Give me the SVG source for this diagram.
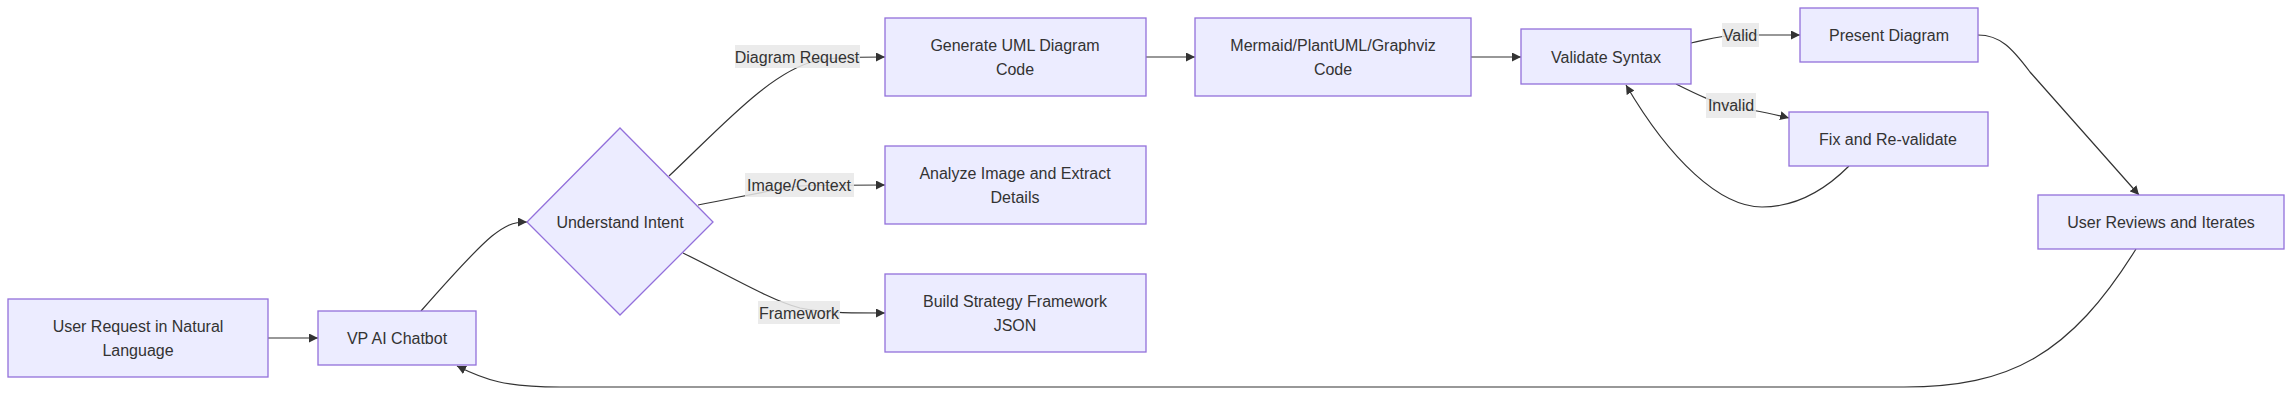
<svg xmlns="http://www.w3.org/2000/svg" width="2293" height="395" viewBox="0 0 2293 395">
<style>
.node rect,.node polygon{fill:#ECECFF;stroke:#9370DB;stroke-width:1.3}
text{font-family:"Liberation Sans",Arial,sans-serif;font-size:16px;fill:#333;text-anchor:middle;dominant-baseline:central}
.edge{fill:none;stroke:#333;stroke-width:1.2}
.lbl rect{fill:#e8e8e8;opacity:0.85}
</style>
<defs>
<marker id="arr" viewBox="0 0 10 10" refX="10" refY="5" markerWidth="9" markerHeight="9" markerUnits="userSpaceOnUse" orient="auto">
<path d="M0,0 L10,5 L0,10 z" fill="#333"/>
</marker>
</defs>
<rect width="2293" height="395" fill="#fff"/>
<g id="connectors">
<path class="edge" d="M268,338 L318,338" marker-end="url(#arr)"/>
<path class="edge" d="M421,311 C450,278 475,250 492,236 C505,226 512,222 527,222" marker-end="url(#arr)"/>
<path class="edge" d="M669,176 C720,128 770,72 815,61 C835,57 850,57 885,57" marker-end="url(#arr)"/>
<path class="edge" d="M698,205 C740,197 775,189 800,186 C820,185 850,185 885,185" marker-end="url(#arr)"/>
<path class="edge" d="M683,253 C730,276 770,300 800,308 C825,313 850,313 885,313" marker-end="url(#arr)"/>
<path class="edge" d="M1146,57 L1195,57" marker-end="url(#arr)"/>
<path class="edge" d="M1471,57 L1521,57" marker-end="url(#arr)"/>
<path class="edge" d="M1691,43 C1710,39 1722,35 1742,35 L1800,35" marker-end="url(#arr)"/>
<path class="edge" d="M1676,84 C1700,96 1715,103 1731,106 C1750,110 1770,113 1789,118" marker-end="url(#arr)"/>
<path class="edge" d="M1849,166 C1820,195 1790,207 1762,207 C1720,207 1670,160 1626,85" marker-end="url(#arr)"/>
<path class="edge" d="M1978,35 C2000,35 2012,48 2030,72 L2139,195" marker-end="url(#arr)"/>
<path class="edge" d="M2136,249 C2070,355 2010,387 1904,387 L560,387 C505,387 485,380 457,366" marker-end="url(#arr)"/>
</g>
<g id="edge-labels">
<g class="lbl"><rect x="735" y="45" width="125" height="23"/><text x="797" y="57">Diagram Request</text></g>
<g class="lbl"><rect x="745" y="173" width="109" height="24"/><text x="799" y="185">Image/Context</text></g>
<g class="lbl"><rect x="758" y="301" width="82" height="23"/><text x="799" y="313">Framework</text></g>
<g class="lbl"><rect x="1722" y="23" width="37" height="24"/><text x="1740" y="35">Valid</text></g>
<g class="lbl"><rect x="1706" y="93" width="50" height="25"/><text x="1731" y="105">Invalid</text></g>
</g>
<g id="n-user" class="node"><rect x="8" y="299" width="260" height="78"/><text x="138" y="326">User Request in Natural</text><text x="138" y="350">Language</text></g>
<g id="n-chatbot" class="node"><rect x="318" y="311" width="158" height="54"/><text x="397" y="338">VP AI Chatbot</text></g>
<g id="n-intent" class="node"><polygon points="620,128 713,222 620,315 527,222"/><text x="620" y="222">Understand Intent</text></g>
<g id="n-generate" class="node"><rect x="885" y="18" width="261" height="78"/><text x="1015" y="45">Generate UML Diagram</text><text x="1015" y="69">Code</text></g>
<g id="n-analyze" class="node"><rect x="885" y="146" width="261" height="78"/><text x="1015" y="173">Analyze Image and Extract</text><text x="1015" y="197">Details</text></g>
<g id="n-build" class="node"><rect x="885" y="274" width="261" height="78"/><text x="1015" y="301">Build Strategy Framework</text><text x="1015" y="325">JSON</text></g>
<g id="n-code" class="node"><rect x="1195" y="18" width="276" height="78"/><text x="1333" y="45">Mermaid/PlantUML/Graphviz</text><text x="1333" y="69">Code</text></g>
<g id="n-validate" class="node"><rect x="1521" y="29" width="170" height="55"/><text x="1606" y="57">Validate Syntax</text></g>
<g id="n-present" class="node"><rect x="1800" y="8" width="178" height="54"/><text x="1889" y="35">Present Diagram</text></g>
<g id="n-fix" class="node"><rect x="1789" y="112" width="199" height="54"/><text x="1888" y="139">Fix and Re-validate</text></g>
<g id="n-review" class="node"><rect x="2038" y="195" width="246" height="54"/><text x="2161" y="222">User Reviews and Iterates</text></g>
</svg>
